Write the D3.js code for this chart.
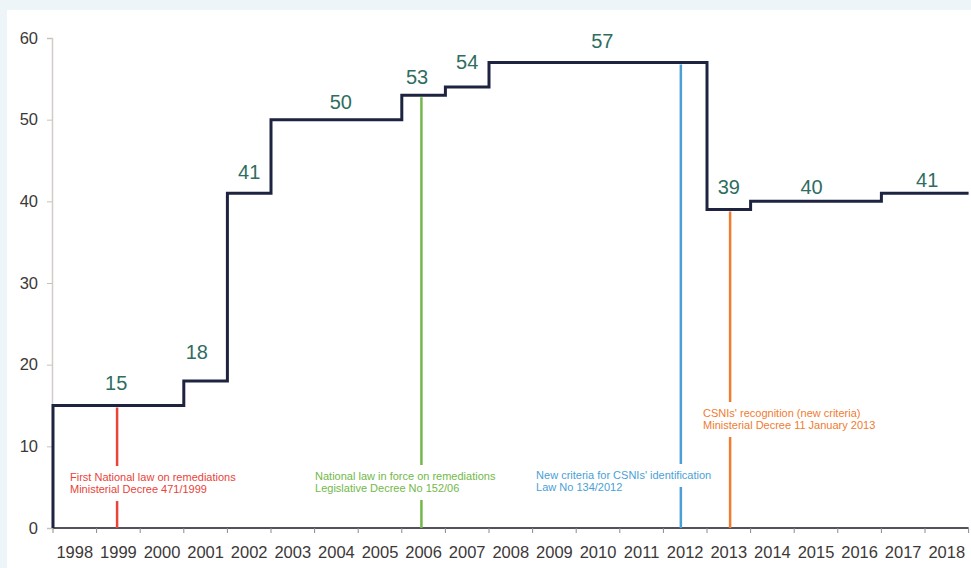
<!DOCTYPE html>
<html>
<head>
<meta charset="utf-8">
<script src="https://cdn.jsdelivr.net/npm/d3@7"></script>
<style>
  html, body { margin: 0; padding: 0; background: #eef5f9; }
  svg { display: block; }
  text { font-family: "Liberation Sans", Arial, sans-serif; }
</style>
</head>
<body>
<svg id="chart" width="971" height="568"></svg>
<script>
// ---- data ----
const years = [1998,1999,2000,2001,2002,2003,2004,2005,2006,2007,2008,2009,2010,2011,2012,2013,2014,2015,2016,2017,2018];
const counts = [15,15,15,18,41,50,50,50,53,54,57,57,57,57,57,39,40,40,40,41,41];
const yTicks = [0,10,20,30,40,50,60];

// value labels shown above the steps
const labelValues = [15,18,41,50,53,54,57,39,40,41];
const labelAt     = [1999.45,2001.3,2002.5,2004.6,2006.35,2007.5,2010.6,2013.5,2015.4,2018.05];
const labelLift   = [2.75,3.55,2.6,2.2,2.2,3.06,2.6,2.75,1.75,1.6];

// regulatory events
const eventNames = ["red","green","blue","orange"];
const eventAt    = [1999.47, 2006.45, 2012.4, 2013.53];
const eventLevel = [15, 53, 57, 39];
const eventColors = ["#e8443a","#72b84a","#4a9fd8","#f07c30"];
const eventText = [
  ["First National law on remediations","Ministerial Decree 471/1999"],
  ["National law in force on remediations","Legislative Decree No 152/06"],
  ["New criteria for CSNIs' identification","Law No 134/2012"],
  ["CSNIs' recognition (new criteria)","Ministerial Decree 11 January 2013"]
];
const eventTextAt = [1998.39, 2004.01, 2009.08, 2012.91];
const eventTextLevel = [6.24, 6.37, 6.49, 14.08];

// ---- layout ----
const svg = d3.select("#chart");
svg.append("rect").attr("x",7).attr("y",10).attr("width",964).attr("height",558).attr("fill","#ffffff");

const x = d3.scaleLinear().domain([1998, 2019]).range([53, 968.6]);
const y = d3.scaleLinear().domain([0, 60]).range([528, 38]);

// y axis
const yAxis = svg.append("g").attr("transform","translate(52,0)")
  .call(d3.axisLeft(y).tickValues(yTicks).tickSize(5).tickPadding(9));
yAxis.select(".domain").attr("stroke","#d3ccc8").attr("stroke-width",1.5);
yAxis.selectAll(".tick line").attr("stroke","#c9c0bc");
yAxis.selectAll(".tick text").attr("fill","#3d3838").attr("font-size","16.5px")
  .attr("font-family","Liberation Sans, Arial, sans-serif");

// x axis (ticks at year boundaries, labels at year centres)
const boundaries = years.concat([2019]);
const xAxis = svg.append("g").attr("transform","translate(0,528)");
xAxis.append("line").attr("x1",x(1998)).attr("x2",x(2019)).attr("y1",0).attr("y2",0)
  .attr("stroke","#50535e").attr("stroke-width",2);
xAxis.selectAll("line.tk").data(boundaries).join("line").attr("class","tk")
  .attr("x1",d=>x(d)).attr("x2",d=>x(d)).attr("y1",0).attr("y2",5)
  .attr("stroke","#8a8a8a").attr("stroke-width",1);
xAxis.selectAll("text").data(years).join("text")
  .attr("x",d=>x(d+0.5)).attr("y",30).attr("text-anchor","middle")
  .attr("fill","#3d3838").attr("font-size","16.5px").text(d=>d);

// event markers (drawn under the step line)
const ev = svg.append("g");
eventNames.forEach((n,i)=>{
  ev.append("line")
    .attr("x1",x(eventAt[i])).attr("x2",x(eventAt[i]))
    .attr("y1",y(eventLevel[i])+2).attr("y2",y(0))
    .attr("stroke",eventColors[i]).attr("stroke-width",2.5);
});
eventNames.forEach((n,i)=>{
  const g = ev.append("g");
  eventText[i].forEach((t,j)=>{
    const cy = y(eventTextLevel[i]) + j*12;
    const txt = g.append("text")
      .attr("x",x(eventTextAt[i])).attr("y",cy).attr("dy","0.35em")
      .attr("fill",eventColors[i]).attr("font-size","11px").text(t);
    const bb = txt.node().getBBox();
    g.insert("rect","text")
      .attr("x",bb.x-3).attr("y",cy-11).attr("width",bb.width+6).attr("height",23)
      .attr("fill","#ffffff");
  });
});

// step line
const pts = [{x:1998, v:0}]
  .concat(years.map((yr,i)=>({x:yr, v:counts[i]})))
  .concat([{x:2019, v:counts[counts.length-1]}]);
const line = d3.line().x(d=>x(d.x)).y(d=>y(d.v)).curve(d3.curveStepAfter);
svg.append("path").datum(pts).attr("d",line)
  .attr("fill","none").attr("stroke","#1e2440").attr("stroke-width",3)
  .attr("stroke-linejoin","miter").attr("stroke-linecap","butt");

// value labels
svg.append("g").selectAll("text").data(labelValues).join("text")
  .attr("x",(d,i)=>x(labelAt[i])).attr("y",(d,i)=>y(d+labelLift[i]))
  .attr("dy","0.35em").attr("text-anchor","middle")
  .attr("fill","#2f6d61").attr("font-size","20px").text(d=>d);
</script>
</body>
</html>
